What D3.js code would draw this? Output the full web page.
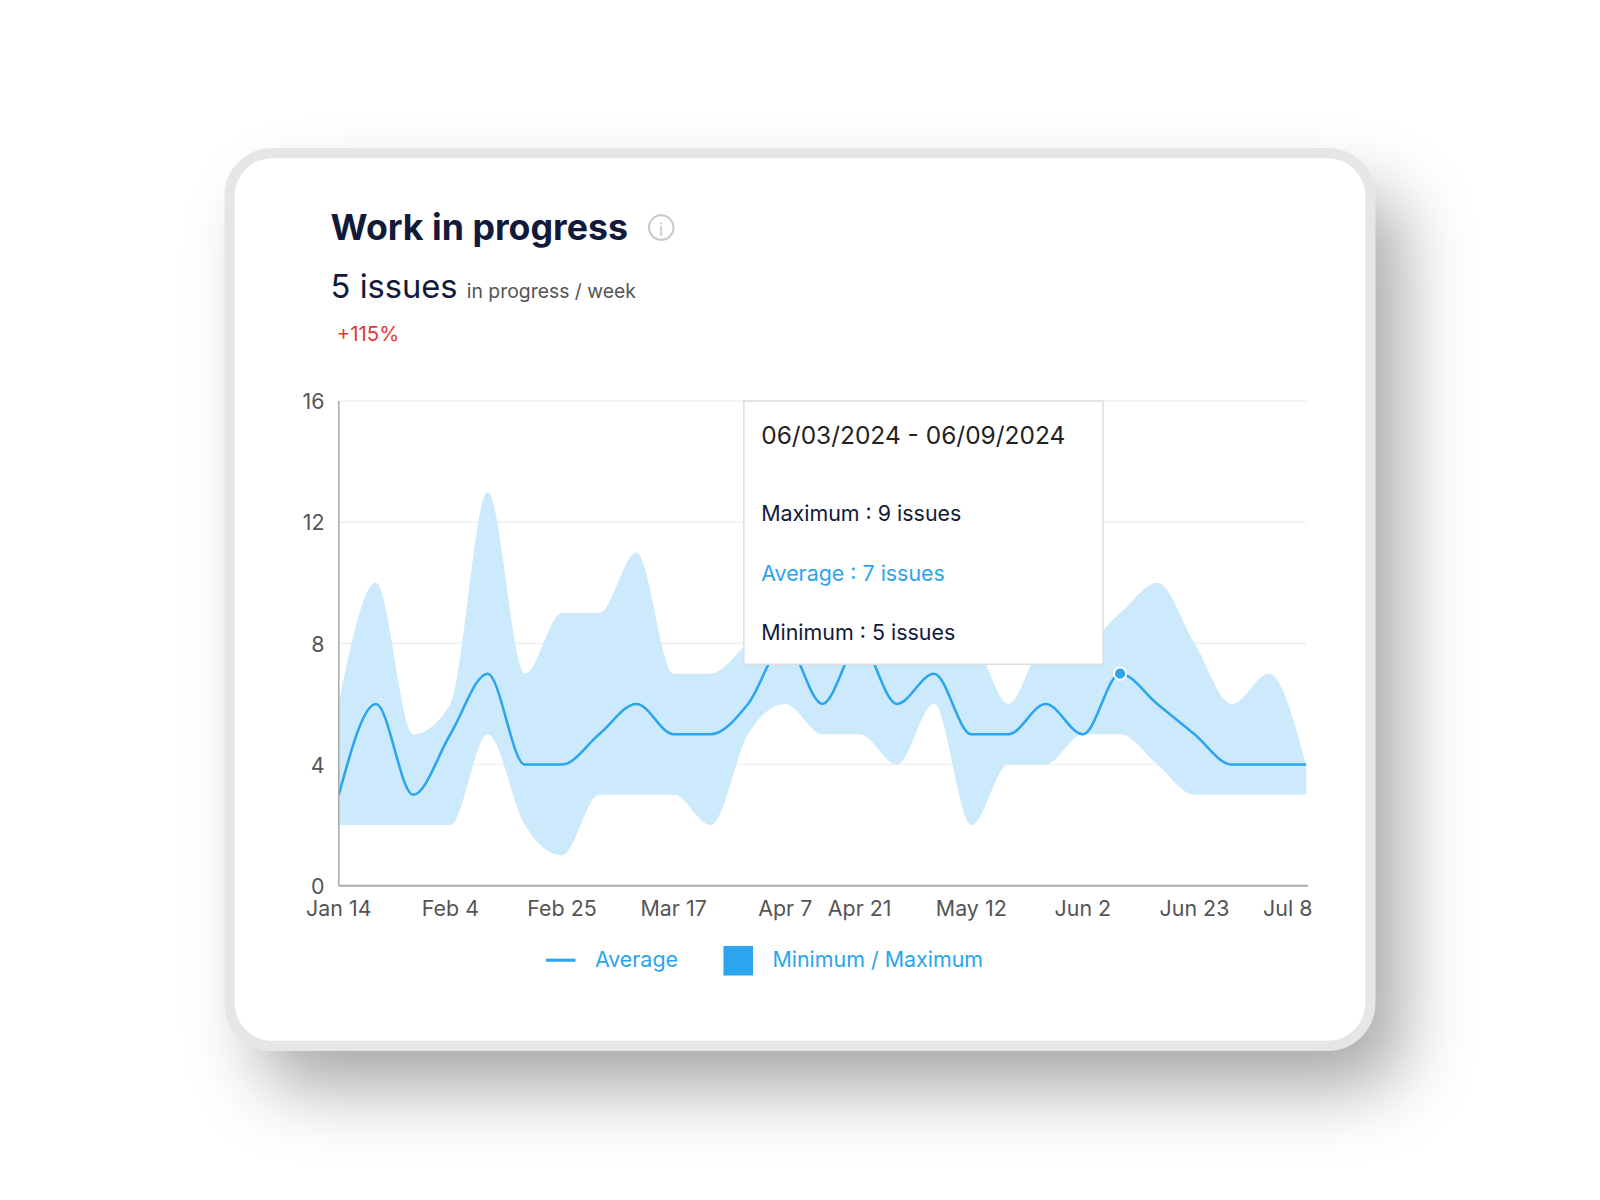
<!DOCTYPE html>
<html><head><meta charset="utf-8">
<script src="https://cdn.jsdelivr.net/npm/d3@7"></script>
<style>body{margin:0;background:#fff;font-family:Inter,"Noto Sans",sans-serif}</style>
</head><body>
<svg id="c" width="1600" height="1200"></svg>
<script>
const startDate = "2024-01-14";
const avgValues = [3,6,3,5,7,4,4,5,6,5,5,6,8,6,8,6,7,5,5,6,5,7,6,5,4,4,4];
const maxValues = [6,10,5,6,13,7,9,9,11,7,7,8,9,8,9,8,8,8,6,8,8,9,10,8,6,7,4];
const minValues = [2,2,2,2,5,2,1,3,3,3,2,5,6,5,5,4,6,2,4,4,5,5,4,3,3,3,3];
const tickDates = ["2024-01-14","2024-02-04","2024-02-25","2024-03-17","2024-04-07","2024-04-21","2024-05-12","2024-06-02","2024-06-23","2024-07-08"];
const tickLabels = ["Jan 14","Feb 4","Feb 25","Mar 17","Apr 7","Apr 21","May 12","Jun 2","Jun 23","Jul 8"];
const yTicks = [0,4,8,12,16];
const highlightIndex = 21;

const root = d3.select("#c");
const defs = root.append("defs");
const f = defs.append("filter").attr("id","sh").attr("x","-20%").attr("y","-20%").attr("width","150%").attr("height","150%");
f.append("feDropShadow").attr("dx",30).attr("dy",40).attr("stdDeviation",35).attr("flood-color","#000").attr("flood-opacity",0.35);
const svg = root.append("g").attr("transform","scale(1.0204)");
svg.append("rect").attr("x",225).attr("y",150).attr("width",1118).attr("height",875).attr("rx",42)
  .attr("fill","#fff").attr("filter","url(#sh)");
svg.append("rect").attr("x",225).attr("y",150).attr("width",1118).attr("height",875).attr("rx",42)
  .attr("fill","none").attr("stroke","#e6e6e6").attr("stroke-width",10);

svg.append("text").attr("x",324).attr("y",235).attr("font-size",35).attr("font-weight",700).attr("fill","#111a3a").text("Work in progress");
svg.append("circle").attr("cx",648).attr("cy",223).attr("r",12).attr("fill","none").attr("stroke","#c8c8c8").attr("stroke-width",2);
svg.append("text").attr("x",648).attr("y",231).attr("text-anchor","middle").attr("font-size",17).attr("fill","#c8c8c8").text("i");
const t2 = svg.append("text").attr("x",324).attr("y",292).attr("fill","#111a3a");
t2.append("tspan").attr("font-size",32).text("5 issues ");
t2.append("tspan").attr("font-size",19).attr("fill","#555").text("in progress / week");
svg.append("text").attr("x",330).attr("y",334).attr("font-size",20).attr("fill","#e53935").text("+115%");

const parse = d3.timeParse("%Y-%m-%d");
const d0 = parse(startDate);
const data = avgValues.map((v,i)=>({d:d3.timeDay.offset(d0,7*i),avg:v,max:maxValues[i],min:minValues[i]}));
const x = d3.scaleTime().domain([data[0].d,data[data.length-1].d]).range([332,1280]);
const y = d3.scaleLinear().domain([0,16]).range([868,393]);
const g = svg.append("g");
yTicks.forEach(t=>{
  if(t>0) g.append("line").attr("x1",332).attr("x2",1280).attr("y1",y(t)).attr("y2",y(t)).attr("stroke","#f0f0f0").attr("stroke-width",1.5);
  g.append("text").attr("x",318).attr("y",y(t)+8).attr("text-anchor","end").attr("font-size",21).attr("fill","#555").text(t);
});
const area = d3.area().x(d=>x(d.d)).y0(d=>y(d.min)).y1(d=>y(d.max)).curve(d3.curveMonotoneX);
g.append("path").datum(data).attr("d",area).attr("fill","#cdeafd");
const line = d3.line().x(d=>x(d.d)).y(d=>y(d.avg)).curve(d3.curveMonotoneX);
g.append("path").datum(data).attr("d",line).attr("fill","none").attr("stroke","#2aa5ee").attr("stroke-width",2.5);
g.append("line").attr("x1",332).attr("x2",332).attr("y1",393).attr("y2",868).attr("stroke","#aaa").attr("stroke-width",1.5);
g.append("line").attr("x1",332).attr("x2",1282).attr("y1",868).attr("y2",868).attr("stroke","#aaa").attr("stroke-width",2);
tickDates.forEach((t,i)=>{
  const xx = x(parse(t));
  g.append("text").attr("x",i===tickLabels.length-1?1262:xx).attr("y",898).attr("text-anchor","middle").attr("font-size",21).attr("fill","#555").text(tickLabels[i]);
});
const hd = data[highlightIndex];
g.append("circle").attr("cx",x(hd.d)).attr("cy",y(hd.avg)).attr("r",6).attr("fill","#2aa5ee").attr("stroke","#fff").attr("stroke-width",2);

const tt = svg.append("g");
tt.append("rect").attr("x",729).attr("y",393).attr("width",352).attr("height",258).attr("fill","#fff").attr("stroke","#ddd").attr("stroke-width",1.5);
tt.append("text").attr("x",746).attr("y",435).attr("font-size",24).attr("fill","#222").text("06/03/2024 - 06/09/2024");
tt.append("text").attr("x",746).attr("y",511).attr("font-size",21).attr("fill","#111a3a").text(`Maximum : ${hd.max} issues`);
tt.append("text").attr("x",746).attr("y",569).attr("font-size",21).attr("fill","#2aa5ee").text(`Average : ${hd.avg} issues`);
tt.append("text").attr("x",746).attr("y",627).attr("font-size",21).attr("fill","#111a3a").text(`Minimum : ${hd.min} issues`);

const lg = svg.append("g");
lg.append("line").attr("x1",535).attr("x2",564).attr("y1",941).attr("y2",941).attr("stroke","#2aa5ee").attr("stroke-width",3);
lg.append("text").attr("x",583).attr("y",948).attr("font-size",21).attr("fill","#2aa5ee").text("Average");
lg.append("rect").attr("x",709).attr("y",927).attr("width",29).attr("height",29).attr("fill","#2aa5ee");
lg.append("text").attr("x",757).attr("y",948).attr("font-size",21).attr("fill","#2aa5ee").text("Minimum / Maximum");
</script>
</body></html>
